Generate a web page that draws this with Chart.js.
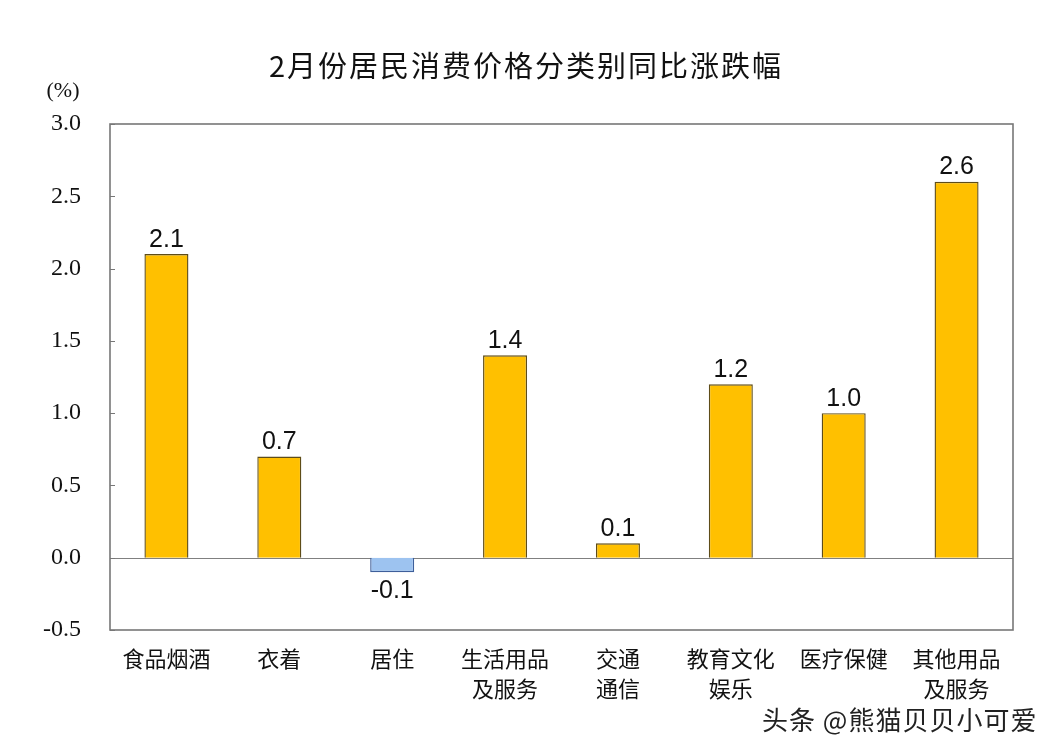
<!DOCTYPE html>
<html>
<head>
<meta charset="utf-8">
<script src="https://cdn.jsdelivr.net/npm/chart.js@4"></script>
<style>
  body { margin: 0; background: #fff; }
  #wrap { position: relative; width: 1058px; height: 756px; }
  #mark {
    position: absolute; left: 762px; top: 700px;
    font: 26px "Noto Sans CJK SC", sans-serif; color: #222;
    letter-spacing: 1px;
    text-shadow: 0 0 3px #fff, 0 0 3px #fff;
  }
</style>
</head>
<body>
<div id="wrap">
  <canvas id="chart"></canvas>
  <div id="mark">头条 @熊猫贝贝小可爱</div>
</div>
<script>
const categories = [
  ['食品烟酒'], ['衣着'], ['居住'], ['生活用品', '及服务'],
  ['交通', '通信'], ['教育文化', '娱乐'], ['医疗保健'], ['其他用品', '及服务']
];
const values = [2.1, 0.7, -0.1, 1.4, 0.1, 1.2, 1.0, 2.6];
const yTicks = [-0.5, 0.0, 0.5, 1.0, 1.5, 2.0, 2.5, 3.0];
const title = '2月份居民消费价格分类别同比涨跌幅';

const cjk = '"Noto Sans CJK SC", sans-serif';

// frame, zero line, inner ticks, title, value labels
const decor = {
  id: 'decor',
  beforeDatasetsDraw(chart) {
    const { ctx, chartArea: a, scales: { y } } = chart;
    ctx.save();
    ctx.strokeStyle = '#808080';
    ctx.lineWidth = 1.2;
    const y0 = Math.round(y.getPixelForValue(0)) + 0.5;
    ctx.beginPath();
    ctx.moveTo(a.left, y0);
    ctx.lineTo(a.right, y0);
    ctx.stroke();
    ctx.restore();
  },
  afterDatasetsDraw(chart) {
    const { ctx, chartArea: a, scales: { y } } = chart;
    ctx.save();
    ctx.strokeStyle = '#777';
    ctx.lineWidth = 1.6;
    ctx.strokeRect(a.left, a.top, a.right - a.left, a.bottom - a.top);
    ctx.lineWidth = 1;
    yTicks.forEach(v => {
      const py = Math.round(y.getPixelForValue(v)) + 0.5;
      ctx.beginPath();
      ctx.moveTo(a.left, py);
      ctx.lineTo(a.left + 5, py);
      ctx.stroke();
    });

    ctx.fillStyle = '#111';
    ctx.font = '25px "Liberation Sans", Arial, sans-serif';
    ctx.textAlign = 'center';
    const meta = chart.getDatasetMeta(0);
    meta.data.forEach((bar, i) => {
      const v = values[i];
      if (v >= 0) {
        ctx.textBaseline = 'bottom';
        ctx.fillText(v.toFixed(1), bar.x, bar.y - 2);
      } else {
        ctx.textBaseline = 'top';
        ctx.fillText(v.toFixed(1), bar.x, bar.y + 6);
      }
    });

    ctx.font = '29px ' + cjk;
    ctx.textBaseline = 'middle';
    ctx.fillStyle = '#111';
    if ('letterSpacing' in ctx) ctx.letterSpacing = '2px';
    ctx.fillText(title, 526, 66);
    if ('letterSpacing' in ctx) ctx.letterSpacing = '0px';

    ctx.font = '22px "Liberation Serif", serif';
    ctx.fillText('(%)', 63, 91);
    ctx.restore();
  }
};

new Chart(document.getElementById('chart'), {
  type: 'bar',
  data: {
    labels: categories,
    datasets: [{
      data: values,
      backgroundColor: values.map(v => v < 0 ? '#9dc3f0' : '#ffc000'),
      borderColor: values.map(v => v < 0 ? '#3e5f9a' : '#5e4c18'),
      borderWidth: 1.4,
      barPercentage: 0.39,
      categoryPercentage: 1.0
    }]
  },
  options: {
    responsive: true,
    maintainAspectRatio: false,
    animation: false,
    layout: { padding: { top: 124, right: 45, bottom: 0, left: 0 } },
    plugins: {
      legend: { display: false },
      tooltip: { enabled: false }
    },
    scales: {
      x: {
        afterFit: s => { s.height = 126; },
        grid: { display: false, drawTicks: false },
        border: { display: false },
        ticks: {
          padding: 14,
          color: '#111',
          font: { family: cjk, size: 22, lineHeight: 1.36 },
          maxRotation: 0
        }
      },
      y: {
        min: -0.5,
        max: 3,
        afterFit: s => { s.width = 110; },
        grid: { display: false, drawTicks: false },
        border: { display: false },
        ticks: {
          stepSize: 0.5,
          padding: 29,
          color: '#111',
          font: { family: '"Liberation Serif", serif', size: 24 },
          callback: v => Number(v).toFixed(1)
        }
      }
    }
  },
  plugins: [decor]
});
</script>
</body>
</html>
